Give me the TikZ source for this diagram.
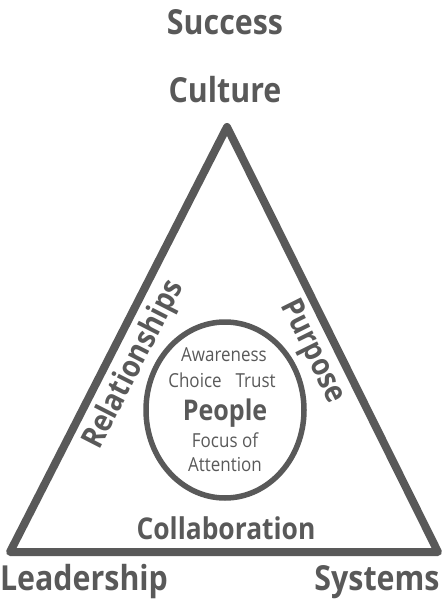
\documentclass[tikz,border=0pt]{standalone}
\usepackage{fontspec}
\setmainfont{Open Sans}[FakeStretch=0.88]
\definecolor{ink}{HTML}{595959}
\tikzset{
  lbl/.style={text=ink, font=\bfseries\fontsize{34.5}{34.5}\selectfont, inner sep=0pt, anchor=base},
  side/.style={text=ink, font=\bfseries\fontsize{31}{31}\selectfont, inner sep=0pt},
  inner/.style={text=ink, font=\fontsize{19.3}{19.3}\selectfont, inner sep=0pt, anchor=base},
  core/.style={text=ink, font=\bfseries\fontsize{28.5}{28.5}\selectfont, inner sep=0pt, anchor=base},
  frame/.style={draw=ink, line width=8pt, line join=round},
  ring/.style={draw=ink, line width=5.5pt}
}
\begin{document}
\begin{tikzpicture}[x=1pt,y=-1pt]
\useasboundingbox (0,0) rectangle (444,601);
\coordinate (apex) at (227,127);
\coordinate (bl) at (10,552);
\coordinate (br) at (438,552);
\draw[frame] (apex) -- (bl) -- (br) -- cycle;
\draw[ring] (225,410) ellipse [x radius=79pt, y radius=88pt];
\node[lbl] (success) at (225,35) {Success};
\node[lbl] (culture) at (225,103) {Culture};
\node[lbl] (leadership) at (84,590) {Leadership};
\node[lbl] (systems) at (377,590) {Systems};
\node[lbl, font=\bfseries\fontsize{30}{30}\selectfont] (collab) at (226,539) {Collaboration};
\node[side, rotate=62.9] (rel) at (134,365) {Relationships};
\node[side, rotate=-63.6] (purpose) at (312,352) {Purpose};
\node[inner] (aware) at (224,361) {Awareness};
\node[inner] (choice) at (222,387) {Choice\hspace{14pt}Trust};
\node[core] (people) at (225,420) {People};
\node[inner] (focus) at (225,447) {Focus of};
\node[inner] (attn) at (225,471) {Attention};
\end{tikzpicture}
\end{document}
